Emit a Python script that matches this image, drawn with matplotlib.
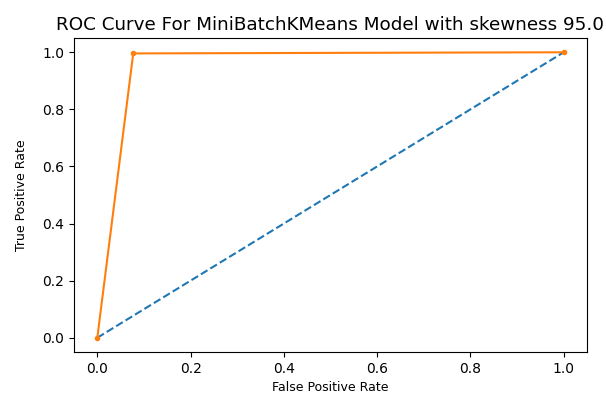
import matplotlib
matplotlib.use('Agg')
from matplotlib import pyplot as plt

# ROC data
ns_fpr = [0.0, 1.0]
ns_tpr = [0.0, 1.0]
fpr = [0.0, 0.077, 1.0]
tpr = [0.0, 0.996, 1.0]

fig = plt.figure(figsize=(6.06, 3.94), dpi=100)
ax = fig.add_axes([74/606, 1 - 352/394, (587-74)/606, (352-38)/394])
ax.plot(ns_fpr, ns_tpr, linestyle='--')
ax.plot(fpr, tpr, marker='.')
ax.tick_params(labelsize=10)
ax.set_xlabel('False Positive Rate', fontsize=9)
ax.set_ylabel('True Positive Rate', fontsize=9, labelpad=10)
ax.set_title('ROC Curve For MiniBatchKMeans Model with skewness 95.0', fontsize=13.2)
fig.savefig('out.png', dpi=100)
